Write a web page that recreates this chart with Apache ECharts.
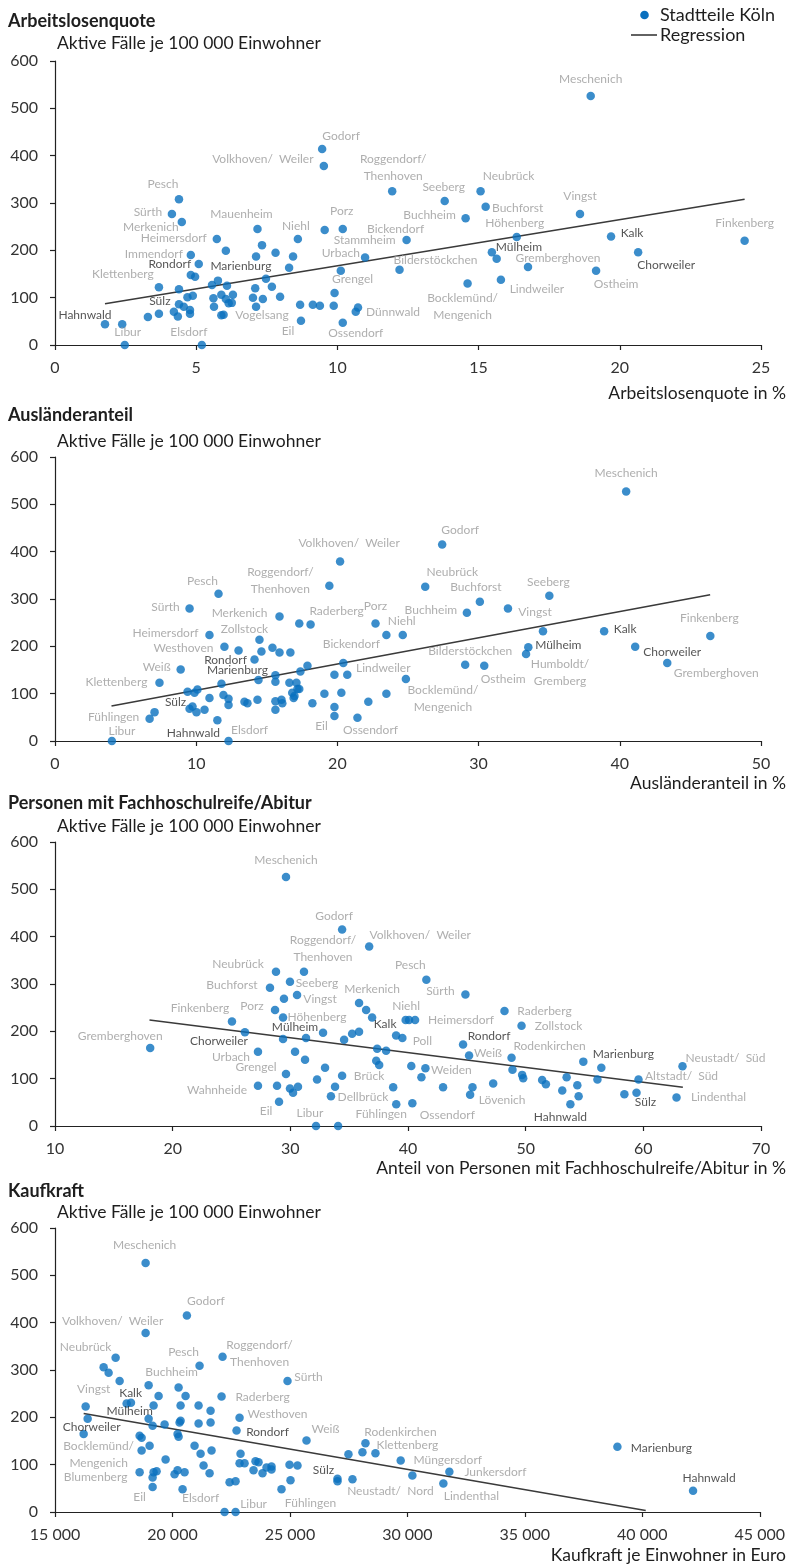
<!DOCTYPE html>
<html><head><meta charset="utf-8">
<script src="https://cdn.jsdelivr.net/npm/echarts@6/dist/echarts.min.js"></script>
<style>html,body{margin:0;padding:0;background:#fff}#c{width:788px;height:1564px}</style>
</head><body><div id="c"></div>
<script>
// ---------- DATA ----------
const panelTitles = ['Arbeitslosenquote', 'Ausländeranteil', 'Personen mit Fachhoschulreife/Abitur', 'Kaufkraft'];
const yTitle = 'Aktive Fälle je 100 000 Einwohner';
const xTitles = ['Arbeitslosenquote in %', 'Ausländeranteil in %', 'Anteil von Personen mit Fachhoschulreife/Abitur in %', 'Kaufkraft je Einwohner in Euro'];
const xRanges = [[0, 25, 5], [0, 50, 10], [10, 70, 10], [15000, 45000, 5000]];
const yRange = [0, 600, 100];
const seriesName = 'Stadtteile Köln';
const regName = 'Regression';
const darkNames = ['Hahnwald', 'Rondorf', 'Marienburg', 'Sülz', 'Mülheim', 'Kalk', 'Chorweiler'];

// [x, y, label]
const p1Points = [
[1.77,44,'Hahnwald'],[2.38,44,''],[2.47,0,'Libur'],[5.2,0,'Elsdorf'],[3.29,59,''],[3.68,66,''],[3.68,122,'Klettenberg'],
[4.39,308,'Pesch'],[4.14,277,'Sürth'],[4.49,260,'Merkenich'],[5.73,224,'Heimersdorf'],[4.81,190,'Immendorf'],[5.09,171,'Rondorf'],
[4.81,148,''],[4.96,144,''],[4.39,118,''],[4.69,101,''],[4.88,104,''],[4.39,86,''],[4.56,81,''],[4.21,70,'Sülz'],[4.35,60,''],
[4.78,74,''],[4.78,66,''],[5.56,127,''],[5.77,136,''],[6.09,125,''],[5.61,99,''],[5.63,81,''],[5.89,106,''],[6.05,97,''],
[6.3,106,''],[6.15,88,''],[6.26,89,''],[5.89,63,''],[5.97,64,''],[6.05,199,''],[7.17,245,'Mauenheim'],[7.33,211,''],[7.12,187,''],
[7.81,195,''],[7.47,140,'Marienburg'],[7.09,120,''],[7.68,123,''],[7.01,100,''],[7.36,97,''],[7.12,81,'Vogelsang'],[7.97,102,''],
[8.29,163,''],[8.43,187,''],[8.6,224,'Niehl'],[8.68,85,''],[8.71,51,'Eil'],[9.13,85,''],[9.38,83,''],[9.46,414,'Godorf'],
[9.52,378,'Volkhoven/  Weiler'],[9.55,243,'Stammheim'],[10.19,245,'Porz'],[10.12,157,'Urbach'],[9.9,110,'Grengel'],[9.87,83,''],
[10.19,47,'Ossendorf'],[10.65,70,''],[10.73,79,'Dünnwald'],[10.98,185,''],[11.94,325,'Roggendorf/\nThenhoven'],
[18.97,526,'Meschenich'],[13.8,304,'Seeberg'],[15.07,325,'Neubrück'],[15.25,292,'Buchforst'],[14.54,268,'Buchheim'],
[18.59,277,'Vingst'],[12.45,222,'Bickendorf'],[16.35,228,'Höhenberg'],[15.47,196,'Mülheim'],[15.64,182,''],
[12.2,159,'Bilderstöckchen'],[16.75,165,'Gremberghoven'],[15.79,138,'Lindweiler'],[14.61,130,'Bocklemünd/\nMengenich'],
[19.16,157,'Ostheim'],[19.69,229,'Kalk'],[20.65,196,'Chorweiler'],[24.42,220,'Finkenberg']
];
const p2Points = [
[4.03,0,'Libur'],[6.7,47,'Fühlingen'],[7.05,61,''],[7.4,123,'Klettenberg'],[8.9,151,'Weiß'],[9.53,280,'Sürth'],[11.58,311,'Pesch'],
[10.94,224,'Heimersdorf'],[12.0,199,'Westhoven'],[13.0,191,''],[14.48,214,'Zollstock'],[14.62,189,''],[14.13,172,'Rondorf'],
[15.4,197,''],[15.9,187,''],[16.67,187,''],[15.9,263,'Merkenich'],[17.3,248,''],[18.1,246,'Raderberg'],
[19.43,328,'Roggendorf/\nThenhoven'],[20.19,379,'Volkhoven/  Weiler'],[22.7,248,'Porz'],[23.47,224,''],[24.63,224,'Niehl'],
[20.42,165,'Bickendorf'],[17.88,159,''],[17.38,147,''],[15.61,139,''],[15.61,125,''],[14.41,129,'Marienburg'],[11.79,121,''],
[9.39,104,''],[9.88,102,''],[10.09,109,''],[10.94,91,''],[11.93,97,''],[12.29,89,''],[12.29,76,''],[9.53,68,'Sülz'],[9.74,73,''],
[10.02,61,''],[10.59,66,''],[11.5,44,'Hahnwald'],[12.29,0,'Elsdorf'],[13.42,83,''],[13.63,80,''],[14.34,87,''],[15.61,84,''],
[15.61,66,''],[16.04,87,''],[16.1,80,''],[16.6,123,''],[17.1,123,''],[16.8,102,''],[16.96,95,''],[17.17,110,''],[17.3,110,''],
[16.9,91,''],[18.23,80,''],[19.08,100,''],[19.79,140,''],[20.7,140,'Lindweiler'],[19.79,72,''],[19.79,53,'Eil'],[20.28,102,''],
[21.42,49,'Ossendorf'],[22.19,83,''],[23.47,100,''],[40.45,527,'Meschenich'],[27.42,415,'Godorf'],[26.22,326,'Neubrück'],
[30.09,294,'Buchforst'],[29.17,271,'Buchheim'],[32.08,280,'Vingst'],[35.01,307,'Seeberg'],[34.56,232,''],[38.89,232,'Kalk'],
[33.52,198,'Mülheim'],[33.36,184,'Humboldt/\nGremberg'],[29.05,161,'Bilderstöckchen'],[30.4,159,'Ostheim'],
[24.85,131,'Bocklemünd/\nMengenich'],[41.09,199,'Chorweiler'],[43.36,165,'Gremberghoven'],[46.41,222,'Finkenberg']
];
const p3Points = [
[29.63,526,'Meschenich'],[34.4,415,'Godorf'],[36.7,379,'Volkhoven/  Weiler'],[18.09,165,'Gremberghoven'],[25.04,221,'Finkenberg'],
[26.14,198,'Chorweiler'],[27.25,157,'Urbach'],[28.78,326,'Neubrück'],[28.27,292,'Buchforst'],[29.97,305,'Seeberg'],
[31.16,326,'Roggendorf/\nThenhoven'],[30.57,277,'Vingst'],[29.46,269,''],[28.7,245,'Porz'],[29.38,229,'Höhenberg'],
[29.38,184,'Mülheim'],[31.33,186,''],[32.78,197,''],[30.4,157,''],[31.25,140,''],[32.95,123,''],[29.63,110,'Grengel'],
[27.25,85,'Wahnheide'],[28.87,85,''],[29.97,79,''],[30.23,70,''],[30.65,83,''],[29.04,51,'Eil'],[32.27,98,''],[32.18,0,'Libur'],
[34.06,0,''],[33.8,83,''],[33.45,63,'Dellbrück'],[34.4,106,'Brück'],[34.57,182,''],[35.25,195,''],[35.84,199,''],
[35.84,260,'Merkenich'],[36.44,245,''],[36.95,229,'Kalk'],[37.38,163,''],[38.14,159,''],[37.3,138,''],[37.55,129,''],
[38.74,82,''],[39.0,46,'Fühlingen'],[38.99,191,''],[39.52,186,'Poll'],[41.56,309,'Pesch'],[44.88,278,'Sürth'],[39.8,224,''],
[40.09,224,'Niehl'],[40.6,224,'Heimersdorf'],[48.2,243,'Raderberg'],[49.65,212,'Zollstock'],[44.68,172,'Rondorf'],
[45.19,149,'Weiß'],[40.28,127,''],[41.48,122,'Weiden'],[41.14,103,''],[42.98,82,''],[45.48,82,''],[45.28,66,'Lövenich'],
[47.24,90,''],[40.37,48,'Ossendorf'],[48.8,144,'Rodenkirchen'],[48.88,119,''],[49.7,108,''],[49.79,101,''],[51.4,97,''],
[51.72,88,''],[53.11,75,''],[53.48,103,''],[53.8,46,'Hahnwald'],[54.39,86,''],[54.5,63,''],[54.9,136,'Marienburg'],
[56.43,123,''],[56.1,98,''],[58.39,67,''],[59.42,70,'Sülz'],[59.59,98,'Altstadt/  Süd'],[63.33,126,'Neustadt/  Süd'],
[62.82,60,'Lindenthal']
];
const p4Points = [
[18857,526,'Meschenich'],[20615,415,'Godorf'],[18857,378,'Volkhoven/  Weiler'],[17581,326,'Neubrück'],[17070,306,''],
[17283,294,''],[17751,277,''],[21154,309,'Pesch'],[22133,328,'Roggendorf/\nThenhoven'],[24898,277,'Sürth'],[18985,268,'Buchheim'],
[19410,245,''],[20261,263,''],[20559,245,''],[19197,225,''],[20346,225,''],[21112,225,''],[21622,214,''],[22090,244,'Raderberg'],
[16305,223,'Vingst'],[18049,229,'Kalk'],[18233,231,''],[16390,197,'Chorweiler'],[16220,165,''],[18985,197,'Mülheim'],
[19155,182,''],[19665,185,''],[20346,193,''],[20303,189,''],[21112,187,''],[21622,189,''],[22856,199,'Westhoven'],
[22728,172,'Rondorf'],[20218,165,''],[20261,159,''],[18602,161,''],[18687,157,''],[18687,130,'Bocklemünd/\nMengenich'],
[19027,140,''],[20941,140,''],[21197,123,''],[21664,130,''],[22898,123,''],[19708,111,''],[18602,84,'Blumenberg'],
[19197,84,''],[19325,86,''],[19155,73,''],[19155,53,'Eil'],[20090,80,''],[20218,88,''],[20516,84,''],[20431,48,'Elsdorf'],
[21324,98,''],[21580,82,''],[22218,0,''],[22686,0,'Libur'],[22431,63,''],[22686,65,''],[22856,103,''],[23069,103,''],
[23536,107,''],[23664,105,''],[23451,88,''],[23834,82,''],[24004,94,''],[24217,96,''],[24217,90,''],[24642,48,'Fühlingen'],
[24983,100,''],[25025,67,''],[25323,98,''],[25706,151,'Weiß'],[27025,70,'Sülz'],[27025,65,''],[27492,122,''],
[27663,69,'Neustadt/  Nord'],[28088,126,''],[28216,145,'Rodenkirchen'],[28641,124,'Klettenberg'],[29716,109,'Müngersdorf'],
[30213,77,''],[31788,85,'Junkersdorf'],[31532,60,'Lindenthal'],[38940,138,'Marienburg'],[42161,45,'Hahnwald']
];
const regressions = [
[[1.77,87],[24.42,308]],
[[4.0,74],[46.4,309]],
[[18.03,224],[63.36,82]],
[[16220,208],[40146,3]]
];

// ---------- LABEL PLACEMENT (pixel offsets from the point) ----------
const labelOffsets = [
{'Hahnwald':[-20,-9],'Libur':[3,-13],'Elsdorf':[-13,-13],'Klettenberg':[-36,-13],'Pesch':[-16,-15],'Sürth':[-24,-2],
 'Merkenich':[-31,5],'Heimersdorf':[-43,-1],'Immendorf':[-37,-1],'Rondorf':[-29,0],'Marienburg':[-25,-13],'Sülz':[-14,-11],
 'Mauenheim':[-16,-15],'Niehl':[-2,-13],'Vogelsang':[6,8],'Eil':[-13,10],'Godorf':[19,-13],'Volkhoven/  Weiler':[-61,-7],
 'Porz':[-1,-18],'Stammheim':[40,10],'Urbach':[0,-18],'Grengel':[18,-14],'Ossendorf':[13,10],'Dünnwald':[35,5],
 'Roggendorf/\nThenhoven':[1,-24],'Bickendorf':[-11,-11],'Bilderstöckchen':[36,-10],'Seeberg':[-1,-14],'Neubrück':[28,-15],
 'Buchforst':[32,1],'Buchheim':[-36,-3],'Höhenberg':[-2,-14],'Mülheim':[27,-5],'Gremberghoven':[30,-9],'Lindweiler':[36,9],
 'Bocklemünd/\nMengenich':[-5,23],'Ostheim':[20,13],'Vingst':[0,-18],'Kalk':[21,-3],'Chorweiler':[28,13],'Finkenberg':[0,-18],
 'Meschenich':[0,-17]},
{'Libur':[10,-10],'Fühlingen':[-36,-2],'Klettenberg':[-43,-1],'Weiß':[-24,-2],'Sürth':[-24,-1],'Pesch':[-16,-13],
 'Heimersdorf':[-44,-2],'Westhoven':[-41,1],'Zollstock':[-15,-11],'Merkenich':[-40,-3],'Rondorf':[-29,1],'Marienburg':[-21,-10],
 'Sülz':[-14,-7],'Hahnwald':[-24,13],'Elsdorf':[21,-11],'Roggendorf/\nThenhoven':[-49,-5],'Volkhoven/  Weiler':[9,-18],
 'Raderberg':[26,-13],'Porz':[0,-17],'Niehl':[-1,-14],'Bickendorf':[8,-19],'Lindweiler':[36,-7],'Eil':[-13,10],
 'Ossendorf':[13,12],'Meschenich':[0,-18],'Godorf':[18,-14],'Neubrück':[27,-15],'Buchforst':[-4,-15],'Buchheim':[-36,-3],
 'Vingst':[27,4],'Seeberg':[-1,-14],'Kalk':[21,-2],'Mülheim':[30,-2],'Humboldt/\nGremberg':[34,19],'Bilderstöckchen':[5,-14],
 'Ostheim':[19,13],'Bocklemünd/\nMengenich':[37,20],'Chorweiler':[37,5],'Gremberghoven':[49,10],'Finkenberg':[-1,-18]},
{'Meschenich':[0,-17],'Godorf':[-8,-13],'Volkhoven/  Weiler':[51,-11],'Roggendorf/\nThenhoven':[19,-23],'Neubrück':[-38,-8],
 'Buchforst':[-38,-3],'Seeberg':[27,1],'Vingst':[23,4],'Finkenberg':[-32,-13],'Porz':[-23,-4],'Höhenberg':[34,0],
 'Mülheim':[12,-12],'Gremberghoven':[-30,-12],'Chorweiler':[-26,9],'Urbach':[-27,5],'Grengel':[-30,-7],'Wahnheide':[-41,4],
 'Eil':[-13,9],'Libur':[-6,-13],'Merkenich':[13,-14],'Kalk':[13,7],'Brück':[27,0],'Dellbrück':[32,1],'Fühlingen':[-15,10],
 'Pesch':[-16,-15],'Sürth':[-25,-3],'Niehl':[-3,-14],'Heimersdorf':[46,0],'Raderberg':[40,0],'Zollstock':[37,0],'Poll':[20,3],
 'Rondorf':[26,-8],'Weiß':[19,-2],'Rodenkirchen':[38,-12],'Weiden':[26,2],'Lövenich':[32,5],'Ossendorf':[35,12],
 'Hahnwald':[-10,13],'Marienburg':[40,-8],'Neustadt/  Süd':[43,-8],'Altstadt/  Süd':[43,-3],'Sülz':[9,9],'Lindenthal':[42,0]},
{'Meschenich':[-1,-18],'Godorf':[19,-14],'Volkhoven/  Weiler':[-33,-12],'Neubrück':[-30,-11],'Pesch':[-16,-14],
 'Roggendorf/\nThenhoven':[37,-3],'Buchheim':[23,-13],'Sürth':[21,-4],'Vingst':[8,-17],'Kalk':[4,-10],'Raderberg':[41,1],
 'Westhoven':[38,-4],'Mülheim':[-19,-8],'Chorweiler':[4,8],'Rondorf':[31,2],'Weiß':[19,-11],'Bocklemünd/\nMengenich':[-43,4],
 'Blumenberg':[-44,5],'Eil':[-13,10],'Elsdorf':[18,9],'Libur':[18,-8],'Fühlingen':[29,14],'Sülz':[-14,-9],
 'Neustadt/  Nord':[38,12],'Rodenkirchen':[35,-11],'Klettenberg':[32,-8],'Müngersdorf':[47,0],'Junkersdorf':[46,0],
 'Lindenthal':[28,13],'Marienburg':[44,1],'Hahnwald':[16,-13]}
];

// ---------- CHART ----------
const FONT = 'Source Sans Pro, Lato, sans-serif';
const DOT = '#0a70be';
const grids = [{top:61},{top:457},{top:842},{top:1228}].map(g => ({left:55, width:706, top:g.top, height:284}));
const titleY = [21, 415, 803, 1191];
const subY = [43, 441, 826, 1212];
const xNameY = [393, 783, 1168, 1555];

function fmtThousands(v){
  if (v < 1000) return String(v);
  return Math.floor(v/1000) + ' ' + String(v % 1000).padStart(3, '0');
}

const chart = echarts.init(document.getElementById('c'), null, {renderer:'canvas'});
const panels = [p1Points, p2Points, p3Points, p4Points];
const series = [];
panels.forEach((pts, i) => {
  const offs = labelOffsets[i];
  series.push({
    type:'line', name:regName, xAxisIndex:i, yAxisIndex:i, data:regressions[i], symbol:'none', silent:true, z:1,
    lineStyle:{color:'#3a3a3a', width:1.6}
  });
  series.push({
    type:'scatter', name:seriesName, xAxisIndex:i, yAxisIndex:i, symbolSize:8.5, silent:true, z:2,
    itemStyle:{color:DOT},
    data: pts.map(p => {
      const item = {value:[p[0], p[1]], name:p[2]};
      if (p[2] && offs[p[2]]) {
        const dark = darkNames.indexOf(p[2]) >= 0;
        item.label = {show:true, formatter:p[2], position:'inside', offset:offs[p[2]],
          color: dark ? '#2b2b2b' : '#9a9a9a', fontSize:12, fontFamily:FONT, lineHeight:17,
          textBorderWidth:0, align:'center', verticalAlign:'middle'};
      }
      return item;
    })
  });
});

const axisCommon = {
  axisLine:{show:true, onZero:false, lineStyle:{color:'#222', width:1.2}},
  axisTick:{show:true, length:5, lineStyle:{color:'#222', width:1.2}},
  splitLine:{show:false},
  axisLabel:{color:'#333', fontSize:16, fontFamily:FONT, margin:17}
};

const graphics = [];
panels.forEach((_, i) => {
  graphics.push({type:'text', x:8, y:titleY[i], style:{text:panelTitles[i], fill:'#1e1e1e', font:'bold 18px ' + FONT, textAlign:'left', textVerticalAlign:'middle'}});
  graphics.push({type:'text', x:57, y:subY[i], style:{text:yTitle, fill:'#1e1e1e', font:'17.5px ' + FONT, textAlign:'left', textVerticalAlign:'middle'}});
  graphics.push({type:'text', x:786, y:xNameY[i], style:{text:xTitles[i], fill:'#1e1e1e', font:'17.5px ' + FONT, textAlign:'right', textVerticalAlign:'middle'}});
});
// legend
graphics.push({type:'circle', shape:{cx:644.5, cy:15, r:4.3}, style:{fill:DOT}});
graphics.push({type:'text', x:660, y:15, style:{text:seriesName, fill:'#1e1e1e', font:'18px ' + FONT, textAlign:'left', textVerticalAlign:'middle'}});
graphics.push({type:'line', shape:{x1:631, y1:35, x2:657, y2:35}, style:{stroke:'#3a3a3a', lineWidth:1.6}});
graphics.push({type:'text', x:660, y:35, style:{text:regName, fill:'#1e1e1e', font:'18px ' + FONT, textAlign:'left', textVerticalAlign:'middle'}});

chart.setOption({
  animation:false,
  backgroundColor:'#fff',
  textStyle:{fontFamily:FONT},
  grid: grids,
  xAxis: xRanges.map((r, i) => Object.assign({}, axisCommon, {
    type:'value', gridIndex:i, min:r[0], max:r[1], interval:r[2],
    axisLabel:Object.assign({}, axisCommon.axisLabel, {margin:15, formatter: i === 3 ? fmtThousands : null})
  })),
  yAxis: xRanges.map((r, i) => Object.assign({}, axisCommon, {
    type:'value', gridIndex:i, min:yRange[0], max:yRange[1], interval:yRange[2]
  })),
  series: series,
  graphic: graphics
});
</script></body></html>
